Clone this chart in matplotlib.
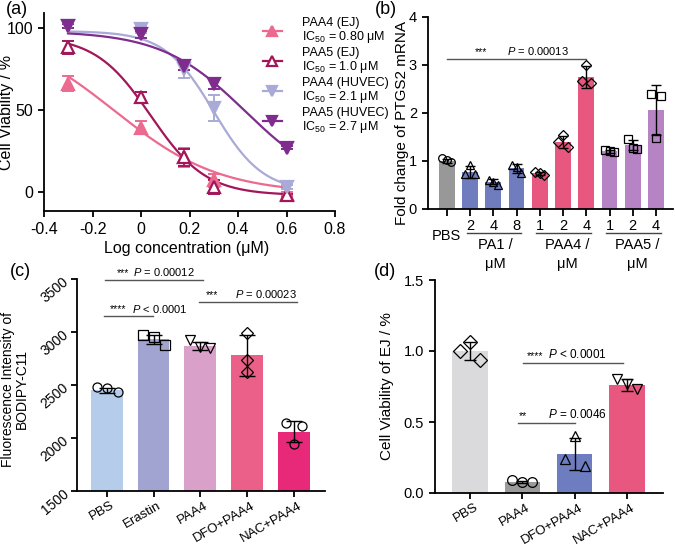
import numpy as np
import matplotlib
matplotlib.use('Agg')
import matplotlib.pyplot as plt
from matplotlib.lines import Line2D
from matplotlib.transforms import ScaledTranslation

plt.rcParams['font.family'] = ['Liberation Sans', 'DejaVu Sans']
plt.rcParams['mathtext.fontset'] = 'custom'
plt.rcParams['mathtext.rm'] = 'Liberation Sans'
plt.rcParams['mathtext.it'] = 'Liberation Sans:italic'
plt.rcParams['axes.linewidth'] = 1.3

# ---------------- data ----------------
# (a) dose response, x = log10(concentration / uM)
log_conc = [-0.301, 0.0, 0.176, 0.301, 0.602]
paa4_ej = [66, 39, 21, 7, -1]
paa4_ej_err = [4.5, 4, 6, 4, 1]
paa5_ej = [88, 58, 21, 3, -2]
paa5_ej_err = [4, 3, 5, 4, 1]
paa4_huvec = [101, 99, 75, 51, 3]
paa4_huvec_err = [1, 2, 5.5, 8, 1]
paa5_huvec = [101, 96, 77, 66, 27]
paa5_huvec_err = [1, 2, 2.5, 3, 1]
# 4PL fit parameters (bottom, top, logIC50, hill)
fit_paa4_ej = (-1, 100, -0.11, 2.0)
fit_paa5_ej = (-2, 95, 0.04, 3.8)
fit_paa4_huvec = (0, 98, 0.30, 4.3)
fit_paa5_huvec = (0, 98, 0.431, 2.5)
legend_a = ['PAA4 (EJ)\nIC$_{50}$ = 0.80 \u03bcM', 'PAA5 (EJ)\nIC$_{50}$ = 1.0 \u03bcM',
            'PAA4 (HUVEC)\nIC$_{50}$ = 2.1 \u03bcM', 'PAA5 (HUVEC)\nIC$_{50}$ = 2.7 \u03bcM']

# (b) PTGS2 mRNA
b_ticklabels = ['', '2', '4', '8', '1', '2', '4', '1', '2', '4']
b_means = [1.0, 0.77, 0.57, 0.85, 0.74, 1.40, 2.75, 1.20, 1.33, 2.06]
b_err = [0.04, 0.12, 0.05, 0.09, 0.03, 0.12, 0.23, 0.03, 0.10, 0.52]
b_points = [[1.06, 1.03, 0.98], [0.72, 0.92, 0.72], [0.60, 0.57, 0.51],
            [0.92, 0.88, 0.75], [0.77, 0.75, 0.71], [1.40, 1.54, 1.29],
            [2.66, 3.00, 2.63], [1.22, 1.21, 1.19], [1.46, 1.28, 1.26],
            [2.39, 1.48, 2.36]]
b_groups = ['PA1 /\n\u03bcM', 'PAA4 /\n\u03bcM', 'PAA5 /\n\u03bcM']

# (c) BODIPY-C11
c_labels = ['PBS', 'Erastin', 'PAA4', 'DFO+PAA4', 'NAC+PAA4']
c_means = [2450, 2930, 2870, 2780, 2060]
c_err = [25, 45, 40, 195, 100]
c_points = [[2480, 2470, 2430], [2970, 2950, 2880], [2920, 2860, 2850],
            [2990, 2740, 2620], [2140, 1940, 2110]]

# (d) viability of EJ
d_labels = ['PBS', 'PAA4', 'DFO+PAA4', 'NAC+PAA4']
d_means = [1.0, 0.077, 0.275, 0.76]
d_err = [0.06, 0.01, 0.11, 0.04]
d_points = [[1.0, 1.06, 0.94], [0.095, 0.077, 0.077], [0.24, 0.40, 0.19],
            [0.80, 0.77, 0.73]]

W, H = 675, 545
fig = plt.figure(figsize=(W / 100, H / 100), dpi=100)


def px_rect(left, top, right, bottom):
    return [left / W, 1 - bottom / H, (right - left) / W, (bottom - top) / H]


def style(ax, size=10):
    ax.spines['top'].set_visible(False)
    ax.spines['right'].set_visible(False)
    ax.tick_params(direction='out', length=4.5, width=1.3, labelsize=size)


def four_pl(x, p):
    bottom, top, logic50, hill = p
    return bottom + (top - bottom) / (1 + 10 ** ((x - logic50) * hill))


def bars_with_points(ax, means, err, points, colors, markers, ms, cap, jitter):
    x = np.arange(len(means))
    ax.bar(x, means, width=0.68, color=colors, zorder=1)
    ax.errorbar(x, means, yerr=err, fmt='none', ecolor='black', elinewidth=1,
                capsize=cap, capthick=1, zorder=3)
    for i, pts in enumerate(points):
        offs = np.array(jitter[i]) if isinstance(jitter[0], list) else np.array(jitter)
        ax.plot(x[i] + offs, pts, linestyle='none', marker=markers[i], ms=ms,
                mfc='none', mec='black', mew=0.9, zorder=4, clip_on=False)


def rotated_xlabels(ax, labels, size):
    ax.set_xticks(np.arange(len(labels)))
    ax.set_xticklabels(labels, rotation=30, ha='right', rotation_mode='anchor',
                       fontsize=size)
    ax.tick_params(axis='x', pad=1.5)
    shift = ScaledTranslation(4 / 100, 0, fig.dpi_scale_trans)
    for t in ax.get_xticklabels():
        t.set_transform(t.get_transform() + shift)


# ---------------- (a) ----------------
ax = fig.add_axes(px_rect(44, 13, 335, 211))
style(ax, 11.5)
xs = np.linspace(-0.301, 0.602, 200)
series_a = [
    (paa4_ej, paa4_ej_err, fit_paa4_ej, '#ec6a90', '^', '#ec6a90'),
    (paa5_ej, paa5_ej_err, fit_paa5_ej, '#a2165a', '^', 'white'),
    (paa4_huvec, paa4_huvec_err, fit_paa4_huvec, '#aaaad8', 'v', '#aaaad8'),
    (paa5_huvec, paa5_huvec_err, fit_paa5_huvec, '#7e2d8e', 'v', '#7e2d8e'),
]
handles = []
for vals, err, fit, col, mk, face in series_a:
    ax.plot(xs, four_pl(xs, fit), color=col, lw=1.6, zorder=2)
    ax.errorbar(log_conc, vals, yerr=err, fmt='none', ecolor=col, elinewidth=1.4,
                capsize=4, capthick=1.4, zorder=3)
    ax.plot(log_conc, vals, linestyle='none', marker=mk, ms=8, mfc=face, mec=col,
            mew=1.6, zorder=4, clip_on=False)
    handles.append(Line2D([], [], color=col, lw=1.6, marker=mk, ms=7, mfc=face,
                          mec=col, mew=1.6))
ax.set_xlim(-0.4, 0.8)
ax.set_ylim(-11.6, 109)
ax.set_xticks(np.arange(-0.4, 0.81, 0.2))
ax.set_xticklabels(['-0.4', '-0.2', '0', '0.2', '0.4', '0.6', '0.8'])
ax.set_yticks([0, 50, 100])
ax.set_xlabel('Log concentration (\u03bcM)', fontsize=11.5)
ax.set_ylabel('Cell Viability / %', fontsize=11.5, va='center')
ax.yaxis.set_label_coords(-0.13, 0.5)
ax.xaxis.set_label_coords(0.49, -0.15)
leg = fig.legend(handles, legend_a, loc='upper left', bbox_to_anchor=(263 / W, 1 - 17 / H),
                 frameon=False, fontsize=9, handlelength=1.5, handletextpad=1.6,
                 labelspacing=0.15, borderpad=0, borderaxespad=0)
for t in leg.get_texts():
    t.set_linespacing(1.0)

# ---------------- (b) ----------------
ax = fig.add_axes(px_rect(428, 17, 673, 209))
style(ax, 10.5)
b_colors = ['#989898'] + ['#6f7dbf'] * 3 + ['#e8577f'] * 3 + ['#b683c4'] * 3
b_markers = ['o'] + ['^'] * 3 + ['D'] * 3 + ['s'] * 3
bars_with_points(ax, b_means, b_err, b_points, b_colors, b_markers, 5.5, 3.5,
                 [-0.2, 0, 0.2])
ax.set_xlim(-0.81, 9.73)
ax.set_ylim(0, 4)
ax.set_xticks(np.arange(len(b_means)))
ax.set_xticklabels(b_ticklabels)
ax.tick_params(axis='x', length=5, pad=2)
ax.set_ylabel('Fold change of PTGS2 mRNA', fontsize=11, va='center')
ax.yaxis.set_label_coords(-0.106, 0.45)
tr = ax.get_xaxis_transform()
ax.text(0, -0.14, 'PBS', transform=tr, ha='center', va='center', fontsize=10.5)
for (x0, x1), gx, lab in zip([(0.85, 3.2), (3.85, 6.2), (6.85, 9.2)], [2.1, 5.2, 8.2], b_groups):
    ax.plot([x0, x1], [-0.125, -0.125], color='#444444', lw=1, transform=tr, clip_on=False)
    ax.text(gx, -0.15, lab, transform=tr, ha='center', va='top', fontsize=10.5,
            linespacing=1.45)
ax.plot([0, 6], [3.12, 3.12], color='#555555', lw=1)
ax.text(1.45, 3.16, '***', ha='center', va='bottom', fontsize=7.5)
ax.text(3.9, 3.16, '$P$ = 0.00013', ha='center', va='bottom', fontsize=8)

# ---------------- (c) ----------------
ax = fig.add_axes(px_rect(77, 279, 325, 491))
style(ax, 10)
c_colors = ['#b5cdea', '#a1a3d1', '#d9a0c9', '#eb6089', '#e8297a']
c_markers = ['o', 's', 'v', 'D', 'o']
bars_with_points(ax, c_means, c_err, c_points, c_colors, c_markers, 6.5, 6,
                 [[-0.22, 0, 0.23], [-0.23, 0, 0.24], [-0.21, 0, 0.21], [0, 0, 0], [-0.17, 0, 0.17]])
ax.set_xlim(-0.64, 4.67)
ax.set_ylim(1500, 3500)
ax.set_yticks(np.arange(1500, 3501, 500))
rotated_xlabels(ax, c_labels, 9.5)
for t in ax.get_yticklabels():
    t.set_rotation(40)
    t.set_rotation_mode('anchor')
ax.set_ylabel('Fluorescence Intensity of\nBODIPY-C11', fontsize=10, va='center',
              linespacing=1.0)
ax.yaxis.set_label_coords(-0.25, 0.48)
ax.plot([-0.05, 2.05], [3490, 3490], color='#555555', lw=1, clip_on=False)
ax.text(0.34, 3505, '***', ha='center', va='bottom', fontsize=7.5)
ax.text(1.22, 3505, '$P$ = 0.00012', ha='center', va='bottom', fontsize=8)
ax.plot([-0.06, 0.98], [3150, 3150], color='#555555', lw=1)
ax.text(0.24, 3165, '****', ha='center', va='bottom', fontsize=7.5)
ax.text(1.13, 3165, '$P$ < 0.0001', ha='center', va='bottom', fontsize=8)
ax.plot([1.97, 4.07], [3285, 3285], color='#555555', lw=1)
ax.text(2.25, 3300, '***', ha='center', va='bottom', fontsize=7.5)
ax.text(3.4, 3300, '$P$ = 0.00023', ha='center', va='bottom', fontsize=8)

# ---------------- (d) ----------------
ax = fig.add_axes(px_rect(435, 280, 663, 493))
style(ax, 10.5)
d_colors = ['#dadadc', '#9b9b9b', '#6e7dc0', '#e8577f']
d_markers = ['D', 'o', '^', 'v']
bars_with_points(ax, d_means, d_err, d_points, d_colors, d_markers, 7, 4,
                 [-0.19, 0, 0.19])
ax.set_xlim(-0.67, 3.69)
ax.set_ylim(0, 1.5)
ax.set_yticks([0, 0.5, 1.0, 1.5])
ax.set_yticklabels(['0.0', '0.5', '1.0', '1.5'])
rotated_xlabels(ax, d_labels, 9.5)
ax.set_ylabel('Cell Viability of EJ / %', fontsize=11, va='center')
ax.yaxis.set_label_coords(-0.21, 0.5)
ax.plot([1.01, 2.93], [0.915, 0.915], color='#555555', lw=1)
ax.text(1.24, 0.93, '****', ha='center', va='bottom', fontsize=7.5)
ax.text(2.05, 0.93, '$P$ < 0.0001', ha='center', va='bottom', fontsize=8.5)
ax.plot([0.92, 2.0], [0.49, 0.49], color='#555555', lw=1)
ax.text(1.01, 0.505, '**', ha='center', va='bottom', fontsize=7.5)
ax.text(2.05, 0.505, '$P$ = 0.0046', ha='center', va='bottom', fontsize=8.5)

# panel letters
for lab, x, y in [('(a)', 17, 9), ('(b)', 386, 9), ('(c)', 20, 271), ('(d)', 385, 272)]:
    fig.text(x / W, 1 - y / H, lab, ha='center', va='center', fontsize=13)

fig.savefig('out.png', dpi=100)
